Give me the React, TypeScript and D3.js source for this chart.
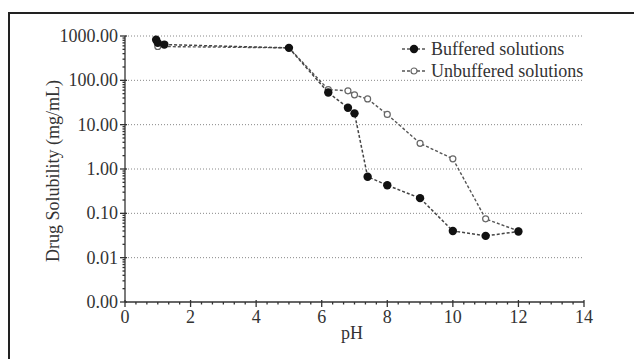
import React, { useEffect, useRef } from "react";
import * as d3 from "d3";

// pH / solubility (mg/mL)
const bufferedPH = [0.95, 1.0, 1.2, 5.0, 6.2, 6.8, 7.0, 7.4, 8.0, 9.0, 10.0, 11.0, 12.0];
const bufferedSol = [820, 700, 640, 540, 53, 24, 18, 0.67, 0.43, 0.22, 0.04, 0.031, 0.039];
const unbufferedPH = [1.0, 5.0, 6.2, 6.8, 7.0, 7.4, 8.0, 9.0, 10.0, 11.0, 12.0];
const unbufferedSol = [580, 540, 62, 58, 47, 38, 17, 3.8, 1.7, 0.075, 0.04];
const xTicks = [0, 2, 4, 6, 8, 10, 12, 14];
const yTicks = [0.001, 0.01, 0.1, 1, 10, 100, 1000];
const seriesNames = ["Buffered solutions", "Unbuffered solutions"];

const FONT = "'Liberation Serif', 'Times New Roman', serif";

function draw(ref: SVGSVGElement | null) {
	if (!ref) return;
	const width = 634,
		height = 359;
	const svg = d3.select(ref).attr("width", width).attr("height", height);
	svg.selectAll("*").remove();

	// outer frame (only left and top edges are visible)
	svg.append("path")
		.attr("d", `M9,${height} L9,13 L${width},13`)
		.attr("fill", "none")
		.attr("stroke", "#222")
		.attr("stroke-width", 2);

	const x = d3.scaleLinear().domain([0, 14]).range([125, 584]);
	const y = d3.scaleLog().domain([0.001, 1000]).range([302, 36]);

	// dotted gridlines
	svg.append("g")
		.selectAll("line")
		.data(yTicks.slice(1))
		.join("line")
		.attr("x1", x(0))
		.attr("x2", x(14))
		.attr("y1", (d) => y(d))
		.attr("y2", (d) => y(d))
		.attr("stroke", "#888")
		.attr("stroke-width", 1)
		.attr("stroke-dasharray", "1,2");

	// axes lines
	const axis = svg.append("g").attr("stroke", "#333").attr("stroke-width", 1.3);
	axis.append("line").attr("x1", x(0)).attr("x2", x(0)).attr("y1", y(1000)).attr("y2", y(0.001));
	axis.append("line").attr("x1", x(0)).attr("x2", x(14)).attr("y1", y(0.001)).attr("y2", y(0.001));

	// y minor ticks
	const yMinor: number[] = [];
	for (let e = -3; e < 3; e++) for (let m = 2; m < 10; m++) yMinor.push(m * Math.pow(10, e));
	axis.selectAll(".ymin")
		.data(yMinor)
		.join("line")
		.attr("x1", x(0) - 2.5)
		.attr("x2", x(0))
		.attr("y1", (d) => y(d))
		.attr("y2", (d) => y(d));
	axis.selectAll(".ymaj")
		.data(yTicks)
		.join("line")
		.attr("x1", x(0) - 5)
		.attr("x2", x(0) + 2)
		.attr("y1", (d) => y(d))
		.attr("y2", (d) => y(d));

	// x ticks
	const xMinor = d3.range(0, 42).map((i) => i / 3).filter((v) => Math.abs(v / 2 - Math.round(v / 2)) > 0.01);
	axis.selectAll(".xmin")
		.data(xMinor)
		.join("line")
		.attr("x1", (d) => x(d))
		.attr("x2", (d) => x(d))
		.attr("y1", y(0.001))
		.attr("y2", y(0.001) + 2.5);
	axis.selectAll(".xmaj")
		.data(xTicks)
		.join("line")
		.attr("x1", (d) => x(d))
		.attr("x2", (d) => x(d))
		.attr("y1", y(0.001) - 2)
		.attr("y2", y(0.001) + 5);

	// tick labels
	svg.append("g")
		.selectAll("text")
		.data(yTicks)
		.join("text")
		.attr("x", x(0) - 7)
		.attr("y", (d) => y(d) + 6)
		.attr("text-anchor", "end")
		.attr("font-family", FONT)
		.attr("font-size", 18)
		.attr("fill", "#333")
		.text((d) => d.toFixed(2));
	svg.append("g")
		.selectAll("text")
		.data(xTicks)
		.join("text")
		.attr("x", (d) => x(d))
		.attr("y", 323)
		.attr("text-anchor", "middle")
		.attr("font-family", FONT)
		.attr("font-size", 18)
		.attr("fill", "#333")
		.text((d) => d);

	// axis titles
	svg.append("text")
		.attr("x", 352)
		.attr("y", 339)
		.attr("text-anchor", "middle")
		.attr("font-family", FONT)
		.attr("font-size", 18)
		.attr("fill", "#333")
		.text("pH");
	svg.append("text")
		.attr("transform", "translate(59,171) rotate(-90)")
		.attr("text-anchor", "middle")
		.attr("font-family", FONT)
		.attr("font-size", 18)
		.attr("fill", "#333")
		.text("Drug Solubility (mg/mL)");

	const line = d3
		.line<[number, number]>()
		.x((d) => x(d[0]))
		.y((d) => y(d[1]));

	const unbuf = unbufferedPH.map((p, i) => [p, unbufferedSol[i]] as [number, number]);
	const buf = bufferedPH.map((p, i) => [p, bufferedSol[i]] as [number, number]);

	// unbuffered series
	svg.append("path")
		.attr("d", line(unbuf))
		.attr("fill", "none")
		.attr("stroke", "#555")
		.attr("stroke-width", 1.4)
		.attr("stroke-dasharray", "3,2");
	svg.append("g")
		.selectAll("circle")
		.data(unbuf)
		.join("circle")
		.attr("cx", (d) => x(d[0]))
		.attr("cy", (d) => y(d[1]))
		.attr("r", 3)
		.attr("fill", "white")
		.attr("stroke", "#666")
		.attr("stroke-width", 1.2);

	// buffered series
	svg.append("path")
		.attr("d", line(buf))
		.attr("fill", "none")
		.attr("stroke", "#444")
		.attr("stroke-width", 1.5)
		.attr("stroke-dasharray", "3,2");
	svg.append("g")
		.selectAll("circle")
		.data(buf)
		.join("circle")
		.attr("cx", (d) => x(d[0]))
		.attr("cy", (d) => y(d[1]))
		.attr("r", 4.2)
		.attr("fill", "#111");

	// legend
	const legend = svg
		.append("g")
		.selectAll("g")
		.data(seriesNames)
		.join("g")
		.attr("transform", (_, i) => `translate(402, ${49 + i * 22})`);
	legend
		.append("line")
		.attr("x1", 0)
		.attr("x2", 23)
		.attr("stroke", "#555")
		.attr("stroke-width", 1.4)
		.attr("stroke-dasharray", "3,2");
	legend
		.append("circle")
		.attr("cx", 12)
		.attr("r", (_, i) => (i === 0 ? 4.2 : 3))
		.attr("fill", (_, i) => (i === 0 ? "#111" : "white"))
		.attr("stroke", (_, i) => (i === 0 ? "none" : "#666"))
		.attr("stroke-width", 1.2);
	legend
		.append("text")
		.attr("x", 29)
		.attr("y", 6)
		.attr("font-family", FONT)
		.attr("font-size", 18)
		.attr("fill", "#333")
		.text((d) => d);
}

export default function App() {
	const ref = useRef<SVGSVGElement>(null);
	useEffect(() => {
		draw(ref.current);
	}, []);
	return <svg ref={ref} style={{ position: "absolute", left: 0, top: 0, background: "white" }} />;
}
